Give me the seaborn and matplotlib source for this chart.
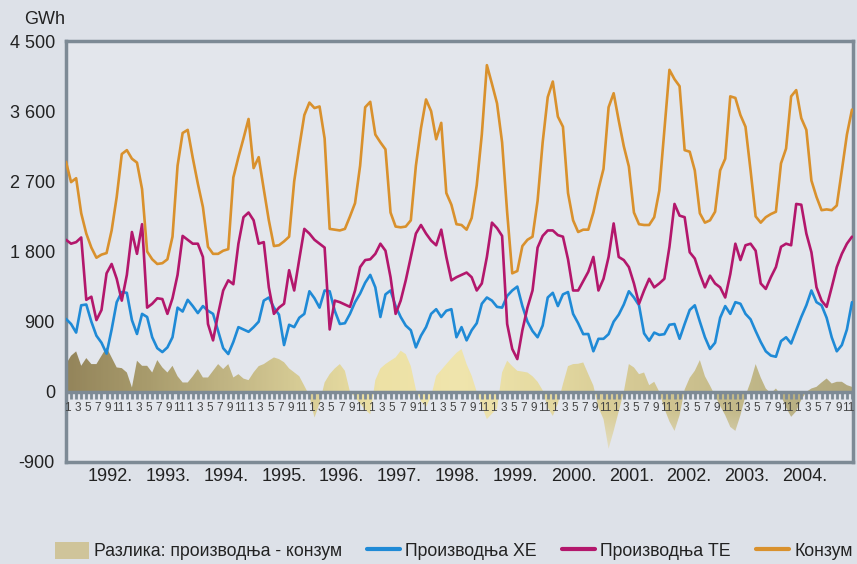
import numpy as np
import pandas as pd
import matplotlib
matplotlib.use('Agg')
import matplotlib.pyplot as plt
from matplotlib.colors import LinearSegmentedColormap, to_rgb
from matplotlib.patches import PathPatch, Patch
from matplotlib.lines import Line2D
import seaborn as sns

# месечни подаци 1992-2004, GWh
years = list(range(1992, 2005))
year_labels = [f'{y}.' for y in years]
ytick_values = [-900, 0, 900, 1800, 2700, 3600, 4500]
ytick_labels = ['-900', '0', '900', '1 800', '2 700', '3 600', '4 500']

konzum = [
    2950, 2690, 2740, 2290, 2030, 1850, 1720, 1760, 1780, 2070, 2500, 3050,
    3100, 2990, 2940, 2600, 1800, 1700, 1640, 1650, 1700, 1990, 2900, 3320,
    3360, 3000, 2670, 2370, 1860, 1770, 1770, 1810, 1830, 2750, 3010, 3250,
    3500, 2870, 3010, 2600, 2200, 1870, 1880, 1930, 1990, 2700, 3140, 3550,
    3710, 3640, 3660, 3250, 2090, 2080, 2070, 2090, 2250, 2420, 2900, 3650,
    3720, 3300, 3200, 3110, 2300, 2120, 2110, 2120, 2200, 2900, 3380, 3750,
    3600, 3240, 3450, 2550, 2400, 2150, 2140, 2080, 2230, 2650, 3300, 4190,
    3950, 3700, 3200, 2300, 1520, 1550, 1870, 1950, 1990, 2450, 3200, 3780,
    3980, 3530, 3400, 2550, 2200, 2050, 2080, 2080, 2300, 2600, 2860, 3650,
    3830, 3480, 3150, 2890, 2300, 2150, 2140, 2140, 2240, 2580, 3350, 4130,
    4010, 3920, 3100, 3080, 2840, 2290, 2170, 2200, 2310, 2840, 2990, 3790,
    3770, 3550, 3400, 2840, 2250, 2170, 2240, 2280, 2310, 2930, 3120, 3790,
    3870, 3510, 3360, 2710, 2500, 2330, 2340, 2330, 2390, 2840, 3300, 3620,
]

proizvodnja_te = [
    1950, 1900, 1920, 1980, 1180, 1220, 920, 1050, 1520, 1640, 1450, 1170,
    1500, 2050, 1770, 2150, 1080, 1130, 1200, 1190, 1000, 1200, 1500, 2000,
    1950, 1900, 1900, 1730, 870, 660, 1000, 1300, 1430, 1380, 1900, 2240,
    2300, 2200, 1900, 1920, 1340, 1000, 1080, 1130, 1560, 1300, 1700, 2090,
    2030, 1950, 1900, 1850, 800, 1170, 1150, 1120, 1090, 1300, 1600, 1690,
    1700, 1770, 1900, 1810, 1470, 1000, 1170, 1430, 1730, 2030, 2140, 2030,
    1940, 1880, 2080, 1730, 1430, 1470, 1500, 1530, 1470, 1300, 1390, 1730,
    2170, 2100, 2000, 870, 550, 420, 790, 1080, 1300, 1850, 2000, 2070,
    2070, 2010, 1990, 1700, 1300, 1300, 1420, 1540, 1730, 1300, 1450, 1730,
    2160, 1730, 1690, 1600, 1390, 1130, 1300, 1450, 1340, 1390, 1450, 1860,
    2410, 2260, 2240, 1790, 1710, 1510, 1340, 1490, 1390, 1340, 1210, 1510,
    1900, 1690, 1880, 1900, 1810, 1390, 1320, 1470, 1600, 1860, 1900, 1880,
    2410, 2400, 2030, 1790, 1340, 1170, 1090, 1340, 1600, 1770, 1900, 1990,
]

proizvodnja_he = [
    935, 870, 760, 1110, 1120, 900, 720, 630, 490, 800, 1150, 1280,
    1270, 920, 742, 1000, 960, 700, 560, 510, 570, 700, 1080, 1030,
    1180, 1100, 1010, 1100, 1040, 1000, 780, 560, 485, 640, 830, 800,
    770, 830, 900, 1170, 1210, 1080, 990, 600, 860, 830, 950, 1000,
    1290, 1200, 1080, 1300, 1290, 1040, 870, 880, 1000, 1150, 1260, 1400,
    1500, 1340, 960, 1250, 1300, 1100, 960, 850, 790, 570, 720, 830,
    1000, 1060, 960, 1040, 1060, 700, 830, 660, 790, 880, 1130, 1210,
    1170, 1090, 1080, 1230, 1300, 1350, 1100, 900, 780, 700, 850, 1210,
    1270, 1100, 1250, 1280, 1000, 880, 740, 742, 520, 680, 680, 740,
    900, 990, 1120, 1290, 1210, 1110, 750, 656, 760, 730, 740, 860,
    870, 680, 870, 1050, 1110, 900, 700, 550, 630, 950, 1100, 1000,
    1150, 1130, 1000, 930, 780, 640, 520, 465, 450, 650, 700, 620,
    790, 960, 1110, 1300, 1150, 1110, 950, 700, 520, 600, 800, 1150,
]

razlika = [
    356, 463, 519, 334, 433, 356, 356, 463, 570, 441, 313, 304,
    248, 56, 399, 334, 334, 248, 407, 313, 248, 334, 200, 120,
    120, 200, 292, 184, 184, 270, 356, 292, 356, 184, 227, 170,
    150, 250, 330, 356, 400, 441, 420, 380, 300, 250, 200, 77,
    -50, -330, -150, 120, 227, 300, 356, 270, 0, -64, -150, -230,
    -287, 150, 300, 356, 400, 441, 527, 484, 330, 30, -120, -193,
    -60, 206, 280, 356, 430, 500, 549, 356, 206, 0, -180, -351,
    -280, -214, 250, 399, 330, 270, 260, 248, 200, 129, 20, -200,
    -309, -150, 100, 330, 356, 360, 377, 227, 80, -200, -350, -730,
    -500, -250, 0, 356, 313, 227, 248, 86, 129, 0, -214, -380,
    -501, -300, 30, 180, 270, 407, 200, 80, -50, -180, -300, -450,
    -501, -300, -50, 129, 356, 184, 43, -20, 43, -43, -200, -321,
    -250, -100, 0, 43, 64, 120, 171, 107, 129, 129, 86, 64,
]

series_names = ['Производња ХЕ', 'Производња ТЕ', 'Конзум']
series_colors = ['#1f8ad6', '#b3176c', '#d9912d']
diff_name = 'Разлика: производња - конзум'

spine_color = '#7d8a95'
text_color = '#222222'

months = np.arange(len(konzum))
df = pd.DataFrame({
    'month': np.tile(months, 3),
    'value': proizvodnja_he + proizvodnja_te + konzum,
    'series': np.repeat(series_names, len(months)),
})

sns.set_theme(style='white')
plt.rcParams['font.family'] = ['Liberation Sans', 'DejaVu Sans']

fig = plt.figure(figsize=(8.57, 5.64), dpi=100, facecolor='#dde1e8')
ax = fig.add_axes([66 / 857, 102 / 564, 787 / 857, 421 / 564])
ax.set_facecolor('#e3e6ec')

# површина разлике са градијентом
fill = ax.fill_between(months, 0, razlika, facecolor='none', edgecolor='none')
clip = PathPatch(fill.get_paths()[0], transform=ax.transData,
                 facecolor='none', edgecolor='none')
ax.add_patch(clip)
stops = ['#94855b', '#a89b6c', '#c0b483', '#d8cd96', '#ede1a5', '#f0e5ad',
         '#e6dba2', '#d8cc97', '#cbc08e', '#bdb486', '#b1a77d']
cmap = LinearSegmentedColormap.from_list('razlika', stops)
xs = cmap(np.linspace(0, 1, 400))[:, :3]
yv = np.linspace(4500, -900, 300)
fade = np.clip((-yv - 250) / 600, 0, 1) * 0.7
img = xs[None, :, :] * (1 - fade[:, None, None]) + np.array(to_rgb('#eceae0')) * fade[:, None, None]
im = ax.imshow(img, extent=(months[0], months[-1], -900, 4500), aspect='auto',
               origin='upper', zorder=1)
im.set_clip_path(clip)

sns.lineplot(data=df, x='month', y='value', hue='series', hue_order=series_names,
             palette=series_colors, linewidth=1.9, legend=False, ax=ax, zorder=4)

# нулта линија са месечним подеоцима
ax.axhline(0, color=spine_color, lw=2.5, zorder=3)
ax.vlines(months, -95, 0, color=spine_color, lw=2, zorder=3)
for i in months:
    m = i % 12 + 1
    if m % 2 == 1:
        ax.text(i + 0.3, -205, str(m), ha='center', va='center',
                fontsize=8.5, color='#444444', zorder=3)

ax.set_xlim(months[0], months[-1] + 0.2)
ax.set_ylim(-900, 4500)
ax.set_xticks([])
ax.set_yticks(ytick_values, ytick_labels)
ax.tick_params(axis='y', direction='in', length=13, width=2.5, color=spine_color,
               labelsize=13, pad=8, labelcolor=text_color)
ax.set_xlabel('')
ax.set_ylabel('')
for s in ax.spines.values():
    s.set_color(spine_color)
    s.set_linewidth(2.5)
    s.set_visible(True)

for xpos, lab in zip(np.linspace(0.056, 0.939, len(year_labels)), year_labels):
    ax.text(xpos, -0.035, lab, transform=ax.transAxes, ha='center', va='center',
            fontsize=13, color=text_color)

fig.text(45 / 857, 1 - 20 / 564, 'GWh', ha='center', va='center',
         fontsize=13, color=text_color)

handles = [Patch(facecolor='#cfc49a', edgecolor='none')]
handles += [Line2D([], [], color=c, lw=3) for c in series_colors]
fig.legend(handles, [diff_name] + series_names, loc='center',
           bbox_to_anchor=(454 / 857, 1 - 551 / 564), ncol=4, frameon=False,
           fontsize=12.7, handlelength=1.9, handleheight=1.1, columnspacing=1.4,
           handletextpad=0.3, borderaxespad=0, borderpad=0, labelcolor=text_color)

fig.savefig('out.png', dpi=100, facecolor=fig.get_facecolor())
